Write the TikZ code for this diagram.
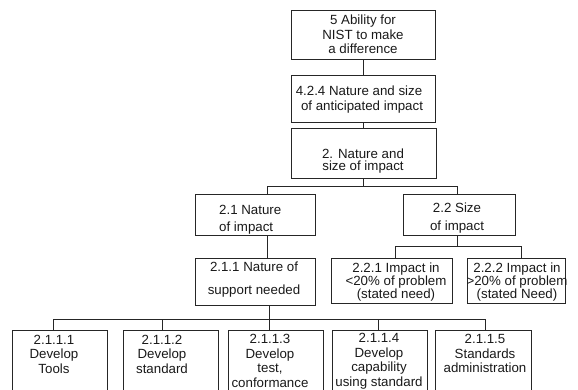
\documentclass[tikz,border=0pt]{standalone}
\usepackage{fontspec}
\setmainfont{Liberation Sans}
\begin{document}
\begin{tikzpicture}[x=1pt,y=-1pt,
  box/.style={draw=black!85,line width=0.9pt,inner sep=0pt,outer sep=0pt,anchor=north west},
  txt/.style={align=center,inner sep=0pt,text=black!90,font=\fontsize{13.3}{#1}\selectfont},
  txt/.default=14.5,
  conn/.style={draw=black!85,line width=0.9pt}]
\useasboundingbox (0,0) rectangle (578,389);
\clip (0,0) rectangle (578,389);
% boxes
\node[box,minimum width=144pt,minimum height=49pt] (b5) at (291,10) {};
\node[box,minimum width=144pt,minimum height=47pt] (b424) at (291,75) {};
\node[box,minimum width=145pt,minimum height=50pt] (b2) at (291,128) {};
\node[box,minimum width=120pt,minimum height=41pt] (b21) at (195,194) {};
\node[box,minimum width=112pt,minimum height=41pt] (b22) at (403,194) {};
\node[box,minimum width=120pt,minimum height=47pt] (b211) at (195,258) {};
\node[box,minimum width=121pt,minimum height=45pt] (b221) at (331,258) {};
\node[box,minimum width=98pt,minimum height=45pt] (b222) at (467,258) {};
\node[box,minimum width=95pt,minimum height=70pt] (b2111) at (12,330) {};
\node[box,minimum width=95pt,minimum height=70pt] (b2112) at (123,330) {};
\node[box,minimum width=95pt,minimum height=70pt] (b2113) at (228,330) {};
\node[box,minimum width=95pt,minimum height=70pt] (b2114) at (332,330) {};
\node[box,minimum width=96pt,minimum height=70pt] (b2115) at (435,330) {};
% texts
\node[txt] (t5) at (363,34.5) {5 Ability for\\NIST to make\\a difference};
\node[txt=15] (t424) at (362,99.5) {4.2.4 Nature and size\hspace*{6pt}\\of anticipated impact};
\node[txt=12] (t2) at (363,161) {2. Nature and\\size of impact};
\node[txt=17,align=left,anchor=west] (t21) at (219,219.5) {2.1 Nature\\of impact};
\node[txt=18] (t22) at (457,218) {2.2 Size\\of impact};
\node[txt=23] (t211) at (254,279.5) {2.1.1 Nature of\\support needed};
\node[txt=13] (t221) at (396,282) {2.2.1 Impact in\\<20\% of problem\\(stated need)};
\node[txt=13] (t222) at (517,282) {2.2.2 Impact in\\>20\% of problem\\(stated Need)};
\node[txt] (t2111) at (54,354) {2.1.1.1\\Develop\\Tools};
\node[txt] (t2112) at (162,354) {2.1.1.2\\Develop\\standard};
\node[txt] (t2113) at (270,361) {2.1.1.3\\Develop\\test,\\conformance};
\node[txt] (t2114) at (379,361) {2.1.1.4\\Develop\\capability\\using standard};
\node[txt] (t2115) at (485,353.5) {2.1.1.5\\Standards\\administration};
% connectors
\draw[conn] (b5.south) -- (b424.north);
\draw[conn] (b424.south) -- (b2.north -| b424.south);
\coordinate (h1L) at (267,186);
\coordinate (h1R) at (457,186);
\draw[conn] (b2.south) -- (b2.south |- h1L);
\draw[conn] (h1L) -- (h1R);
\draw[conn] (h1L) -- (h1L |- b21.north);
\draw[conn] (h1R) -- (h1R |- b22.north);
\draw[conn] (h1L |- b21.south) -- (h1L |- b211.north);
\coordinate (h2L) at (395,246);
\coordinate (h2R) at (521,246);
\draw[conn] (h1R |- b22.south) -- (h1R |- h2L);
\draw[conn] (h2L) -- (h2R);
\draw[conn] (h2L) -- (h2L |- b221.north);
\draw[conn] (h2R) -- (h2R |- b222.north);
\coordinate (h3L) at (53,319);
\coordinate (h3R) at (485,319);
\coordinate (h3M) at (269,319);
\coordinate (d2) at (162,319);
\coordinate (d4) at (378,319);
\draw[conn] (h3M |- b211.south) -- (h3M);
\draw[conn] (h3L) -- (h3R);
\draw[conn] (h3L) -- (h3L |- b2111.north);
\draw[conn] (d2) -- (d2 |- b2112.north);
\draw[conn] (h3M) -- (h3M |- b2113.north);
\draw[conn] (d4) -- (d4 |- b2114.north);
\draw[conn] (h3R) -- (h3R |- b2115.north);
\end{tikzpicture}
\end{document}
